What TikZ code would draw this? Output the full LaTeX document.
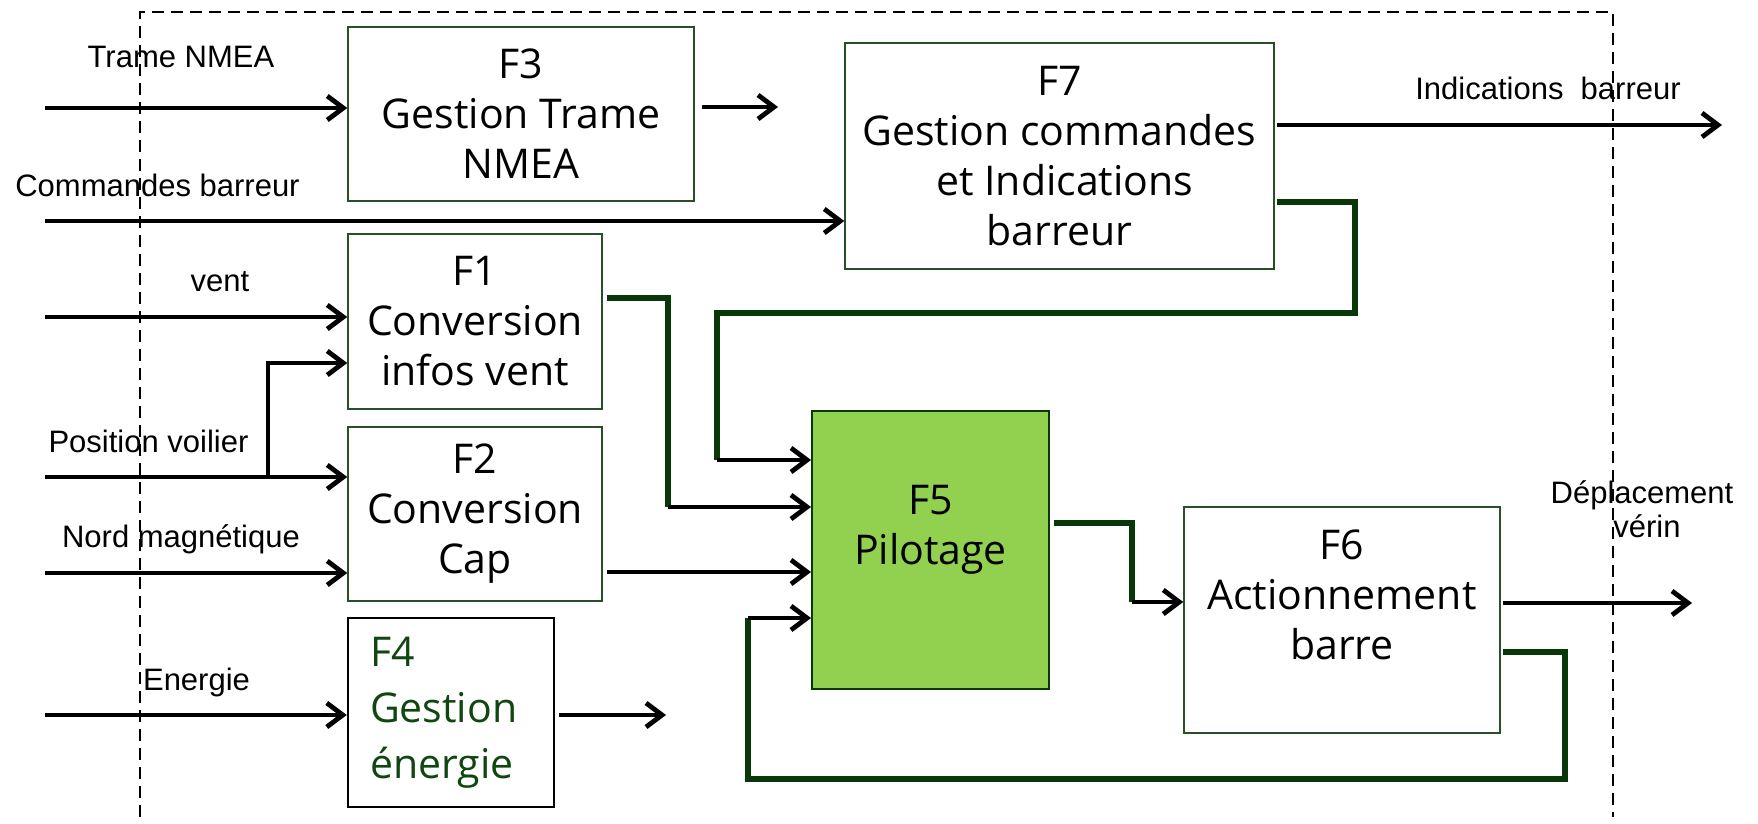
\documentclass[tikz,border=0pt]{standalone}
\usepackage{fontspec}
\newfontfamily\lblfont{Liberation Sans}
\newfontfamily\boxfont{Open Sans}
\usetikzlibrary{arrows.meta,calc}
\definecolor{dkgreen}{RGB}{8,56,8}
\definecolor{boxgreen}{RGB}{40,80,40}
\definecolor{fillgreen}{RGB}{146,208,80}
\definecolor{txtgreen}{RGB}{16,70,16}
\tikzset{
  fbox/.style={draw=boxgreen, line width=0.7pt, fill=white, inner sep=0pt, align=center,
    font={\boxfont\fontsize{20.5}{25}\selectfont}},
  lbl/.style={font={\lblfont\fontsize{15.5}{19}\selectfont}, inner sep=0pt, anchor=base},
  sig/.style={line width=2.4pt, -{Straight Barb[length=8pt,width=12pt]}},
  fb/.style={line width=2.8pt, draw=dkgreen},
  frontier/.style={dash pattern=on 6pt off 3.5pt, line width=0.8pt}
}
\begin{document}
\begin{tikzpicture}[x=0.5pt,y=-0.5pt]
\useasboundingbox (0,0) rectangle (1758,824);
\fill[white] (0,0) rectangle (1758,824);

% function blocks
\node[fbox, minimum width=173pt, minimum height=87pt] (F3) at (521,114) {F3\\Gestion Trame\\NMEA};
\node[fbox, minimum width=214.5pt, minimum height=113pt] (F7) at (1059.5,156) {F7\\Gestion commandes\\\ et Indications\\barreur};
\node[fbox, minimum width=127pt, minimum height=87.5pt] (F1) at (475,321.5) {F1\\Conversion\\infos vent};
\node[fbox, minimum width=127pt, minimum height=87pt] (F2) at (475,514) {F2\\Conversion\\Cap};
\node[fbox, draw=black, line width=1.2pt, minimum width=103pt, minimum height=94.5pt,
      inner xsep=11pt, text width=81pt, align=left, text=txtgreen,
      font={\boxfont\fontsize{20.5}{28}\selectfont}] (F4) at (451,712.5) {F4\\Gestion\\énergie};
\node[fbox, fill=fillgreen, draw=dkgreen, line width=1pt, minimum width=118.5pt, minimum height=139pt] (F5) at (930.5,550) {F5\\Pilotage\\\mbox{}};
\node[fbox, minimum width=158pt, minimum height=113pt] (F6) at (1342,620) {F6\\Actionnement\\barre\\\mbox{}};

% labels
\node[lbl] (tTrame) at (181,68) {Trame NMEA};
\node[lbl] (tCmd) at (157.5,197) {Commandes barreur};
\node[lbl] (tVent) at (220,292) {vent};
\node[lbl] (tPos) at (148.5,452) {Position voilier};
\node[lbl] (tNord) at (181,547) {Nord magnétique};
\node[lbl] (tEner) at (196.5,690) {Energie};
\node[lbl] (tInd) at (1548,100) {Indications\ \ barreur};
\node[lbl] (tDep) at (1642,503) {Déplacement};
\node[lbl] (tVer) at (1647,537) {vérin};

% free ends and bends
\coordinate (inTrame) at (45,108);
\coordinate (inCmd) at (45,221);
\coordinate (inVent) at (45,317);
\coordinate (inPos) at (45,477);
\coordinate (inNord) at (45,573);
\coordinate (inEner) at (45,715);
\coordinate (jPos) at (268,477);
\coordinate (jF1) at (268,363);
\coordinate (outF3) at (778,107);
\coordinate (outF4) at (666,715);
\coordinate (outInd) at (1722,125);
\coordinate (outDep) at (1692,603);
\coordinate (c1a) at (668,298);
\coordinate (c1b) at (668,507);
\coordinate (c7a) at (1355,202);
\coordinate (c7b) at (1355,313);
\coordinate (c7c) at (717,313);
\coordinate (c7d) at (717,460);
\coordinate (c2) at (700,572);
\coordinate (c6a) at (1565,652);
\coordinate (c6b) at (1565,779);
\coordinate (c6c) at (748,779);
\coordinate (c6d) at (748,618);
\coordinate (c5a) at (1132,523);
\coordinate (c5b) at (1132,602);

% inputs
\draw[sig] (inTrame) -- (inTrame -| F3.west);
\draw[sig] (inCmd) -- (inCmd -| F7.west);
\draw[sig] (inVent) -- (inVent -| F1.west);
\draw[sig] (inPos) -- (inPos -| F2.west);
\draw[sig] (jPos) -- (jF1) -- (jF1 -| F1.west);
\draw[sig] (inNord) -- (inNord -| F2.west);
\draw[sig] (inEner) -- (inEner -| F4.west);

% outputs
\draw[sig, shorten <=3.5pt] (outF3 -| F3.east) -- (outF3);
\draw[sig, shorten <=2pt] (outF4 -| F4.east) -- (outF4);
\draw[sig, shorten <=1pt] (outInd -| F7.east) -- (outInd);
\draw[sig, shorten <=1pt] (outDep -| F6.east) -- (outDep);

% internal links
\draw[fb, shorten <=2pt] (c1a -| F1.east) -- (c1a) -- (c1b);
\draw[sig] (c1b) -- (c1b -| F5.west);
\draw[fb, shorten <=1pt] (c7a -| F7.east) -- (c7a) -- (c7b) -- (c7c) -- (c7d);
\draw[sig] (c7d) -- (c7d -| F5.west);
\draw[sig, shorten <=2pt] (c2 -| F2.east) -- (c2 -| F5.west);
\draw[fb, shorten <=1pt] (c6a -| F6.east) -- (c6a) -- (c6b) -- (c6c) -- (c6d);
\draw[sig] (c6d) -- (c6d -| F5.west);
\draw[fb, shorten <=2pt] (c5a -| F5.east) -- (c5a) -- (c5b);
\draw[sig] (c5b) -- (c5b -| F6.west);

% system frontier
\draw[frontier] (140,817) -- (140,12) -- (1613,12) -- (1613,817);
\end{tikzpicture}
\end{document}
